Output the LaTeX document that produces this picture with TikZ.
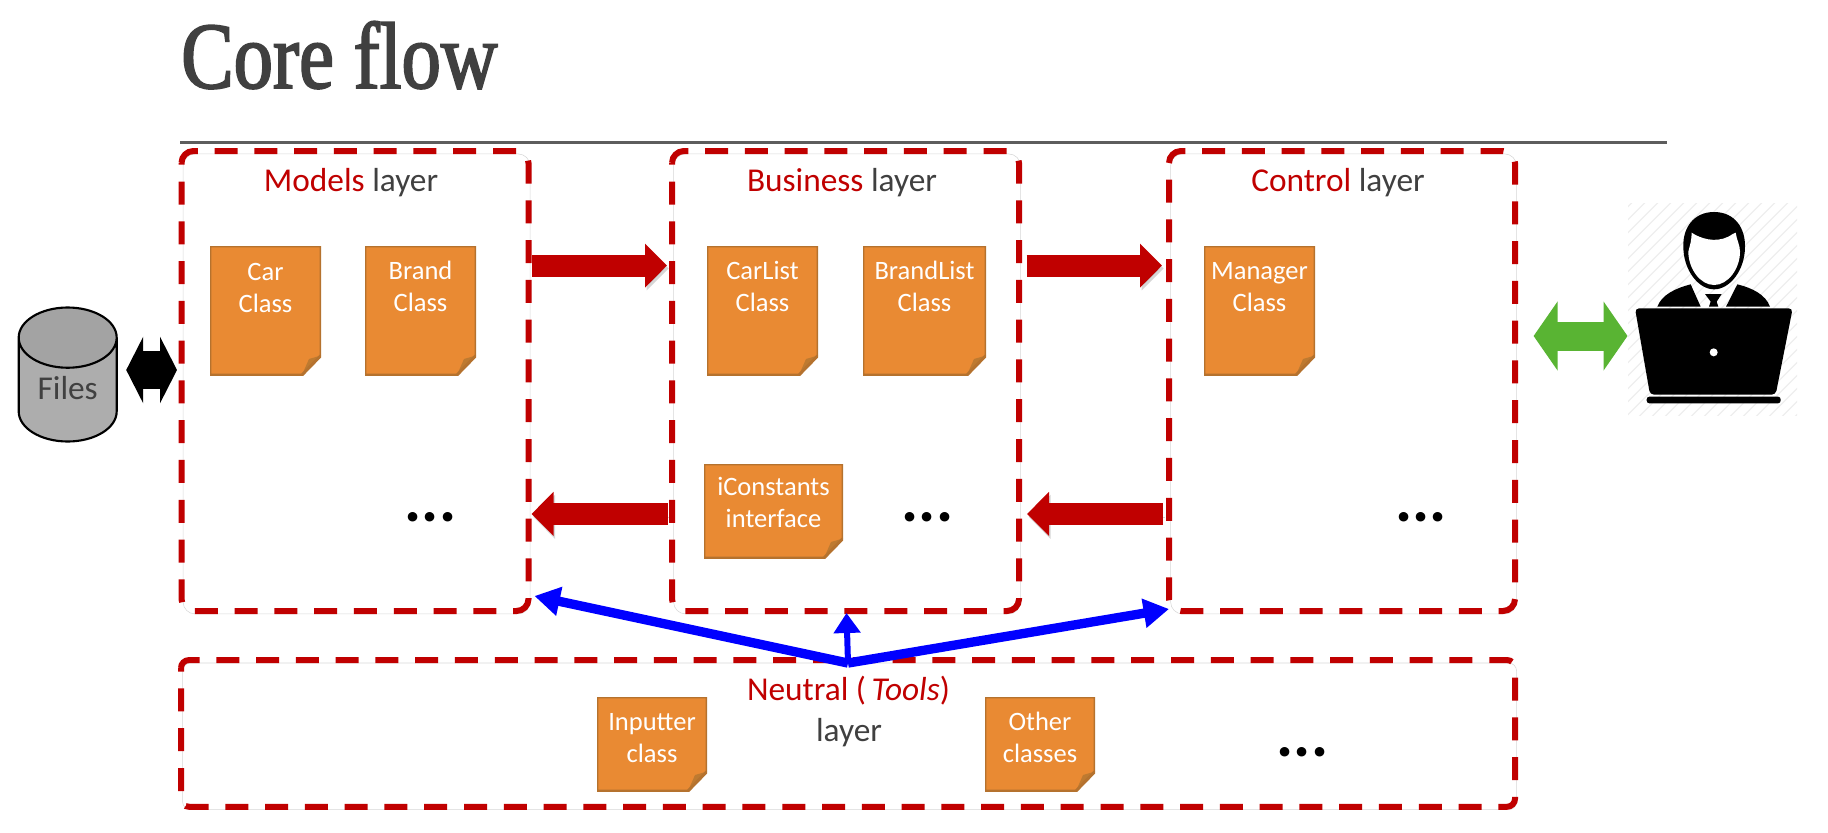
\documentclass[tikz,border=0pt]{standalone}
\usepackage{fontspec}
\setmainfont{Carlito}
\newfontfamily\titlefont[FakeStretch=0.83,FakeBold=2]{Liberation Serif}
\usetikzlibrary{arrows.meta,calc,shapes.geometric}
\definecolor{layerred}{HTML}{C00000}
\definecolor{noteorange}{HTML}{E98A33}
\definecolor{noteedge}{HTML}{B5722E}
\definecolor{notefold}{HTML}{BE7A30}
\definecolor{arrowgreen}{HTML}{59B433}
\definecolor{softtext}{HTML}{404040}
\newcommand\notetxt[4]{\parbox[c][\dimexpr#2pt*3/4\relax][t]{\dimexpr#1pt*3/4\relax}{\centering\fontsize{19.9}{24}\selectfont\vspace*{\dimexpr#3pt*3/4\relax}\strut #4}}
\newcommand\layerpath[2]{\draw[layerline,rounded corners=#2] ($(#1.north west)+(0,-#2)$) -- (#1.north west) -- (#1.north east) -- (#1.south east) -- (#1.south west) -- ($(#1.north west)+(0,-#2)$);}
\tikzset{
  softshadow/.style={preaction={draw=black,opacity=.16,transform canvas={shift={(1.2pt,-2.2pt)}}}},
  layerbox/.style={inner sep=0pt,outer sep=0pt},
  layerline/.style={draw=layerred,line width=4.5pt,dash pattern=on 17.25pt off 12.585pt,softshadow},
  notebox/.style={fill=noteorange,text=white,inner sep=0pt,outer sep=0pt,anchor=north west,
    path picture={
      \coordinate (se) at (path picture bounding box.south east);
      \fill[white] (se) -- ($(se)+(0,-19.5)$) -- ($(se)+(-19,0)$) -- cycle;
      \fill[notefold] ($(se)+(0,-19.5)$) -- ($(se)+(-12,-16)$) -- ($(se)+(-19,0)$) -- cycle;
      \draw[noteedge,line width=2.2pt] (path picture bounding box.south west) -- (path picture bounding box.north west) -- (path picture bounding box.north east) -- ($(se)+(0,-19.5)$) -- ($(se)+(-19,0)$) -- cycle;
    }},
  layertitle/.style={anchor=base,font=\fontsize{25}{30}\selectfont,text=softtext,inner sep=0pt},
  dotsmark/.style={anchor=base,font=\bfseries\fontsize{48}{48}\selectfont,text=black,inner sep=0pt},
  redarrow/.style={draw=layerred,line width=16.5pt,-{Triangle[length=16.5pt,width=32pt]},softshadow},
  bluearrow/.style={draw=blue,line width=7pt,-{Triangle[length=19pt,width=21pt]}},
  blueup/.style={draw=blue,line width=4.5pt,-{Triangle[length=15pt,width=19.5pt]}},
  blackarrow/.style={draw=black,line width=28.5pt,{Triangle[length=12.75pt,width=49.5pt]}-{Triangle[length=12.75pt,width=49.5pt]}},
  greenarrow/.style={draw=arrowgreen,line width=21.75pt,{Triangle[length=18pt,width=51pt]}-{Triangle[length=18pt,width=51pt]}},
}
\begin{document}
\begin{tikzpicture}[x=0.75pt,y=-0.75pt]
\useasboundingbox (0,0) rectangle (1828,832);
\fill[white] (0,0) rectangle (1828,832);
% title and rule
\node[anchor=base west,inner sep=0pt,text=softtext,font=\titlefont\fontsize{71}{71}\selectfont] (title) at (181,88) {Core flow};
\coordinate (ruleL) at (180,142.5);
\coordinate (ruleR) at (1667,142.5);
\draw[draw=softtext!85!white,line width=1.6pt] (ruleL) -- (ruleR);
% layers
\node[layerbox,minimum width=347*.75pt,minimum height=460*.75pt] (models) at (355,381) {};
\node[layerbox,minimum width=347*.75pt,minimum height=460*.75pt] (business) at (845.5,381) {};
\node[layerbox,minimum width=346*.75pt,minimum height=460*.75pt] (control) at (1342,381) {};
\node[layerbox,minimum width=1334*.75pt,minimum height=146.7*.75pt] (neutral) at (848,733.4) {};
\layerpath{models}{9pt}
\layerpath{business}{9pt}
\layerpath{control}{9pt}
\layerpath{neutral}{6pt}
% labels
\node[layertitle] (lmodels) at (351,191.5) {\textcolor{layerred}{Models} layer};
\node[layertitle] (lbusiness) at (842,191.5) {\textcolor{layerred}{Business} layer};
\node[layertitle] (lcontrol) at (1338,191.5) {\textcolor{layerred}{Control} layer};
\node[layertitle] (lneutral) at (848.5,700.5) {\textcolor{layerred}{Neutral (\,\textit{Tools})}};
\node[layertitle] (lneutral2) at (849,741) {layer};
% notes
\node[notebox] (car) at (210,246) {\notetxt{111}{129}{12}{Car\\Class}};
\node[notebox] (brand) at (365,246) {\notetxt{111}{129}{11.5}{Brand\\Class}};
\node[notebox] (carlist) at (707,246) {\notetxt{111}{129}{11.5}{CarList\\Class}};
\node[notebox] (brandlist) at (863,246) {\notetxt{123}{129}{11.5}{BrandList\\Class}};
\node[notebox] (manager) at (1204,246) {\notetxt{111}{129}{11.5}{Manager\\Class}};
\node[notebox] (iconstants) at (704,464) {\notetxt{139}{94}{9}{iConstants\\interface}};
\node[notebox] (inputter) at (597,697) {\notetxt{110}{94}{11}{Inputter\\class}};
\node[notebox] (other) at (985,697) {\notetxt{110}{94}{11}{Other\\classes}};
% dots
\node[dotsmark] (d1) at (430.5,521) {...};
\node[dotsmark] (d2) at (927.5,521) {...};
\node[dotsmark] (d3) at (1421,521) {...};
\node[dotsmark] (d4) at (1302.5,756) {...};
% files
\node[cylinder,shape border rotate=90,aspect=1,draw=black,line width=1.6pt,cylinder uses custom fill,
  cylinder body fill=black!32,cylinder end fill=black!36,minimum width=98*.75pt,minimum height=134*.75pt,
  inner sep=0pt,outer sep=0pt,text=softtext,font=\fontsize{25}{30}\selectfont,anchor=shape center] (files) at (67.7,374.5) {\raisebox{2.6pt}{Files}};
% user
\node[inner sep=0pt,outer sep=0pt,anchor=north west,minimum width=169*.75pt,minimum height=212*.75pt,
  path picture={
    \foreach \k in {-200,-187,...,200}
      \draw[black!7,line width=.8pt] ($(path picture bounding box.center)+(\k-130,130)$) -- ($(path picture bounding box.center)+(\k+130,-130)$);
  }] (user) at (1628,203) {};
\begin{scope}[shift={(1600,190)},x=.25pt,y=-.25pt]
  \fill[black] (342,66) .. controls (280,66) and (248,115) .. (250,170) .. controls (250,240) and (295,298) .. (342,298) .. controls (390,298) and (435,240) .. (435,170) .. controls (436,115) and (405,66) .. (342,66) -- cycle;
  \fill[white] (275,128) .. controls (300,145) and (345,160) .. (385,140) .. controls (395,135) and (402,128) .. (407,128) .. controls (410,150) and (420,165) .. (420,185) .. controls (420,235) and (385,285) .. (342,285) .. controls (300,285) and (265,235) .. (265,185) .. controls (270,165) and (275,150) .. (275,128) -- cycle;
  \fill[black] (172,350) .. controls (185,315) and (225,295) .. (272,283) -- (302,350) -- cycle;
  \fill[black] (510,350) .. controls (497,315) and (460,295) .. (412,283) -- (378,350) -- cycle;
  \fill[black] (315,312) -- (365,312) -- (350,335) -- (355,350) -- (327,350) -- (332,335) -- cycle;
  \fill[black,rounded corners=3pt] (105,355) -- (578,355) -- (527,614) -- (150,614) -- cycle;
  \fill[white] (341,487) circle (3pt);
  \fill[black,rounded corners=2pt] (140,620) rectangle (542,640);
\end{scope}
% connectors
\draw[redarrow] ($(models.north east)!.249!(models.south east)+(3.5,0)$) -- ($(business.north west)!.249!(business.south west)+(-5,0)$);
\draw[redarrow] ($(business.north east)!.249!(business.south east)+(7.5,0)$) -- ($(control.north west)!.249!(control.south west)+(-7,0)$);
\draw[redarrow] ($(business.north west)!.789!(business.south west)+(-4.5,0)$) -- ($(models.north east)!.789!(models.south east)+(3,0)$);
\draw[redarrow] ($(control.north west)!.789!(control.south west)+(-6,0)$) -- ($(business.north east)!.789!(business.south east)+(8,0)$);
\coordinate (hub) at ($(neutral.north)+(0,3)$);
\draw[bluearrow] (hub) -- ($(models.south east)+(6,-15)$);
\draw[bluearrow] (hub) -- ($(control.south west)+(0,-2)$);
\draw[blueup] (hub) -- ($(business.south)+(1,2)$);
\coordinate (filesport) at ($(models.west)+(-4.5,-11)$);
\draw[blackarrow] ($(files.east |- filesport)+(9.5,0)$) -- (filesport);
\draw[greenarrow] ($(control.east)+(18.6,-45)$) -- ($(user.west)+(-.5,27)$);
\end{tikzpicture}
\end{document}
